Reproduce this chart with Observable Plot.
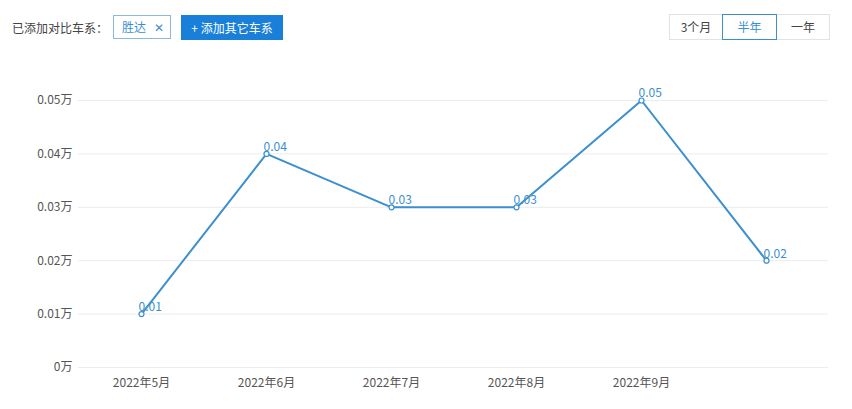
<!DOCTYPE html>
<html>
<head>
<meta charset="utf-8">
<script src="https://cdn.jsdelivr.net/npm/d3@7"></script>
<script src="https://cdn.jsdelivr.net/npm/@observablehq/plot@0.6"></script>
<style>
  html, body { margin: 0; padding: 0; background: #fff; }
  body { width: 852px; height: 409px; overflow: hidden; font-family: "Noto Sans CJK SC", "Noto Sans", sans-serif; position: relative; }
  #header { position: absolute; left: 0; top: 0; width: 852px; height: 50px; }
  .lbl { position: absolute; left: 12px; top: 18px; font-size: 12px; color: #444; line-height: 20px; }
  .tag { position: absolute; left: 113px; top: 15px; width: 58px; height: 24px; box-sizing: border-box; border: 1px solid #8db8dd; color: #3a8fd1; font-size: 12px; line-height: 22px; padding-left: 8px; }
  .tag span { margin-left: 8px; }
  .btn { position: absolute; left: 181px; top: 15px; width: 102px; height: 25px; background: #1a7fd9; color: #fff; font-size: 12px; line-height: 25px; text-align: center; }
  .seg { position: absolute; top: 14px; height: 26px; box-sizing: border-box; border: 1px solid #e2e2e2; font-size: 12px; line-height: 24px; text-align: center; color: #444; }
  .seg.on { border-color: #3a8fd1; color: #3a8fd1; z-index: 1; }
  #chart { position: absolute; left: 0; top: 50px; }
</style>
</head>
<body>
<div id="header">
  <div class="lbl">已添加对比车系：</div>
  <div class="tag">胜达<span>✕</span></div>
  <div class="btn">+ 添加其它车系</div>
  <div class="seg" style="left:669px;width:54px;">3个月</div>
  <div class="seg on" style="left:722px;width:55px;">半年</div>
  <div class="seg" style="left:776px;width:54px;">一年</div>
</div>
<div id="chart"></div>
<script>
const months = ["2022年5月", "2022年6月", "2022年7月", "2022年8月", "2022年9月", "2022年10月"];
const values = [0.01, 0.04, 0.03, 0.03, 0.05, 0.02];
const xTickLabels = ["2022年5月", "2022年6月", "2022年7月", "2022年8月", "2022年9月"];
const yTicks = [0, 0.01, 0.02, 0.03, 0.04, 0.05];

const data = months.map((m, i) => ({month: m, value: values[i]}));
const blue = "#3c8fcf";

const chart = Plot.plot({
  width: 852,
  height: 359,
  marginTop: 50,
  marginBottom: 42,
  marginLeft: 78,
  marginRight: 24,
  style: {fontFamily: "'Noto Sans CJK SC', sans-serif", fontSize: "12px", background: "#fff"},
  x: {type: "point", domain: months, padding: 0.5, label: null},
  y: {domain: [0, 0.05], label: null},
  marks: [
    Plot.ruleY(yTicks, {stroke: "#ececec", strokeWidth: 1}),
    Plot.axisY({ticks: yTicks, tickSize: 0, tickPadding: 6, label: null, tickFormat: d => `${+d.toFixed(2)}万`, fill: "#555", fontSize: 12}),
    Plot.axisX({tickSize: 0, tickPadding: 11, label: null, tickFormat: d => xTickLabels.includes(d) ? d : "", fill: "#555", fontSize: 12}),
    Plot.line(data, {x: "month", y: "value", stroke: blue, strokeWidth: 2}),
    Plot.dot(data, {x: "month", y: "value", r: 2.5, fill: "#fff", stroke: blue, strokeWidth: 1.2}),
    Plot.text(data, {x: "month", y: "value", text: d => `${d.value}`, fill: blue, fontSize: 12, textAnchor: "start", dx: -3, dy: -7})
  ]
});
document.getElementById("chart").appendChild(chart);
</script>
</body>
</html>
